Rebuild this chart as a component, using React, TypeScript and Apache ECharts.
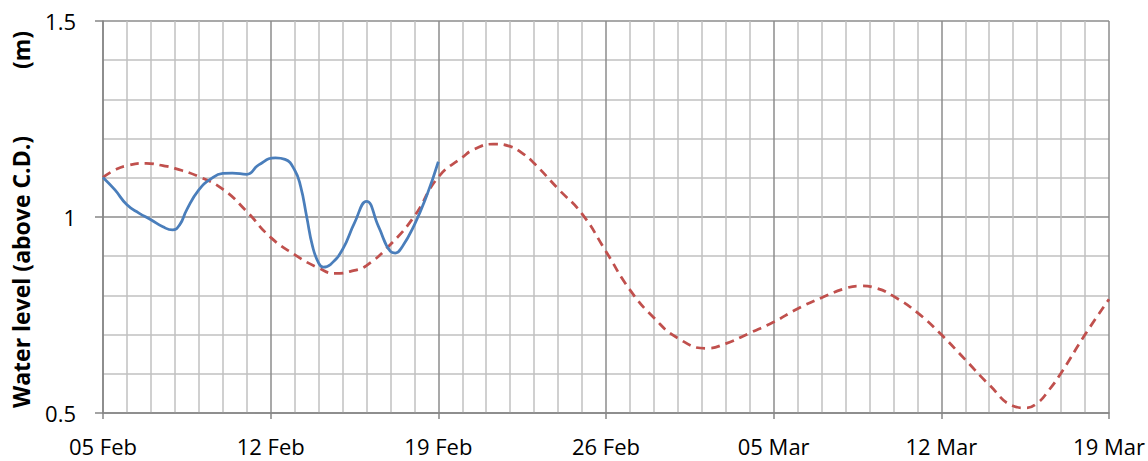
import React, { useEffect, useRef } from "react";
import * as echarts from "echarts";

const xTickLabels = ["05 Feb", "12 Feb", "19 Feb", "26 Feb", "05 Mar", "12 Mar", "19 Mar"];

// Observed water level (m above C.D.), x = days since 05 Feb
const observedDays = [
  0, 0.5, 1, 1.5, 2, 2.5, 2.9, 3.2, 3.5, 4, 4.5, 5, 5.4, 6, 6.5, 7.2, 7.6, 8, 8.25, 8.5,
  8.75, 9, 9.2, 9.5, 10, 10.5, 11, 11.5, 12, 12.2, 12.5, 13, 13.5, 14,
];
const observedLevel = [
  1.101, 1.069, 1.031, 1.01, 0.993, 0.975, 0.967, 0.98, 1.019, 1.069, 1.097, 1.111, 1.112, 1.109,
  1.133, 1.151, 1.147, 1.12, 1.078, 1.002, 0.925, 0.883, 0.872, 0.879, 0.917, 0.985, 1.04, 0.976,
  0.912, 0.908, 0.925, 0.98, 1.052, 1.141,
];

// Predicted water level (m above C.D.), x = days since 05 Feb
const predictedDays = [
  0, 0.5, 1, 1.8, 2.5, 3, 4, 5, 6, 7, 8, 9, 9.7, 10.5, 11, 12, 13, 14, 15, 15.5, 16.3, 17, 17.5,
  18, 19, 20, 21, 22, 23, 24, 25.2, 26, 27, 28, 29, 30, 31, 31.6, 32.3, 33, 34, 35, 36, 37, 38,
  38.5, 39, 39.5, 40, 41, 42,
];
const predictedLevel = [
  1.101, 1.12, 1.131, 1.137, 1.131, 1.124, 1.103, 1.071, 1.014, 0.948, 0.904, 0.87, 0.856, 0.864,
  0.876, 0.93, 1.002, 1.102, 1.152, 1.173, 1.186, 1.18, 1.163, 1.137, 1.072, 1.008, 0.912, 0.814,
  0.743, 0.691, 0.665, 0.677, 0.704, 0.732, 0.766, 0.794, 0.818, 0.824, 0.818, 0.798, 0.756, 0.7,
  0.636, 0.572, 0.518, 0.513, 0.525, 0.559, 0.602, 0.7, 0.79,
];

const FONT = "Open Sans";

export default function App() {
  const ref = useRef<HTMLDivElement>(null);
  useEffect(() => {
    if (!ref.current) return;
    const chart = echarts.init(ref.current, undefined, { renderer: "svg" });
    chart.setOption({
      animation: false,
      backgroundColor: "#ffffff",
      grid: { left: 103, top: 21, width: 1006, height: 392, containLabel: false },
      xAxis: {
        type: "value",
        min: 0,
        max: 42,
        interval: 7,
        axisLine: { show: true, lineStyle: { color: "#868686", width: 1.5 } },
        axisTick: { show: true, length: 6, lineStyle: { color: "#868686", width: 1.5 } },
        axisLabel: {
          margin: 22,
          fontFamily: FONT,
          fontSize: 22,
          color: "#000000",
          formatter: (v: number) => xTickLabels[Math.round(v / 7)] ?? "",
        },
        splitLine: { show: true, lineStyle: { color: "#8c8c8c", width: 1.5 } },
        minorTick: { show: false, splitNumber: 7 },
        minorSplitLine: { show: true, lineStyle: { color: "#c0c0c0", width: 1.5 } },
      },
      yAxis: {
        type: "value",
        min: 0.5,
        max: 1.5,
        interval: 0.5,
        axisLine: { show: true, lineStyle: { color: "#868686", width: 1.5 } },
        axisTick: { show: true, length: 8, lineStyle: { color: "#868686", width: 1.5 } },
        axisLabel: {
          margin: 27,
          fontFamily: FONT,
          fontSize: 22,
          color: "#000000",
        },
        splitLine: { show: true, lineStyle: { color: "#8c8c8c", width: 1.5 } },
        minorTick: { show: false, splitNumber: 5 },
        minorSplitLine: { show: true, lineStyle: { color: "#c0c0c0", width: 1.5 } },
      },
      graphic: [
        {
          type: "text",
          x: 21,
          y: 272,
          rotation: Math.PI / 2,
          style: {
            text: "Water level (above C.D.)",
            fontFamily: FONT,
            fontWeight: "bold",
            fontSize: 23,
            fill: "#000000",
            textAlign: "center",
            textVerticalAlign: "middle",
          },
        },
        {
          type: "text",
          x: 21,
          y: 50,
          rotation: Math.PI / 2,
          style: {
            text: "(m)",
            fontFamily: FONT,
            fontWeight: "bold",
            fontSize: 23,
            fill: "#000000",
            textAlign: "center",
            textVerticalAlign: "middle",
          },
        },
      ],
      series: [
        {
          name: "Predicted",
          type: "line",
          data: predictedDays.map((d, i) => [d, predictedLevel[i]]),
          smooth: 0.5,
          showSymbol: false,
          lineStyle: { color: "#c0504d", width: 2.75, type: [9, 6] },
          z: 3,
        },
        {
          name: "Observed",
          type: "line",
          data: observedDays.map((d, i) => [d, observedLevel[i]]),
          smooth: 0.5,
          showSymbol: false,
          lineStyle: { color: "#4a7ebb", width: 2.75 },
          z: 4,
        },
      ],
    });
    return () => chart.dispose();
  }, []);
  return (
    <div
      ref={ref}
      style={{ position: "fixed", left: 0, top: 0, width: 1148, height: 461, background: "#fff" }}
    />
  );
}
